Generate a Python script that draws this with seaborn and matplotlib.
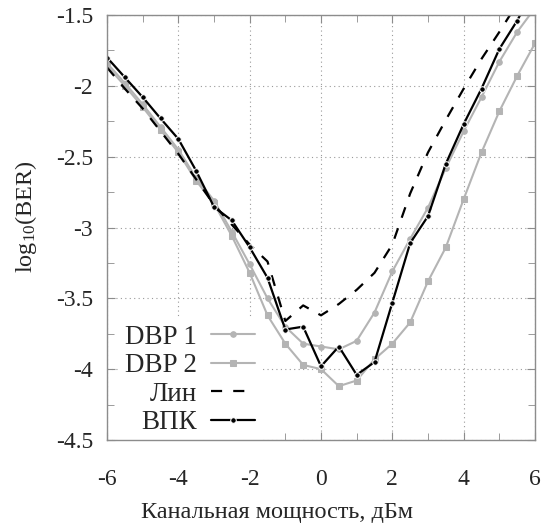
import seaborn as sns
import matplotlib
matplotlib.use("Agg")
import matplotlib.pyplot as plt
import pandas as pd
import numpy as np
from matplotlib.ticker import MultipleLocator

# channel power, dBm
power = [-6, -5.5, -5, -4.5, -4, -3.5, -3, -2.5, -2, -1.5, -1, -0.5, 0,
         0.5, 1, 1.5, 2, 2.5, 3, 3.5, 4, 4.5, 5, 5.5, 6]

dbp1 = [-1.84, -1.98, -2.13, -2.29, -2.45, -2.65, -2.81, -3.03, -3.26, -3.50,
        -3.70, -3.82, -3.84, -3.86, -3.80, -3.60, -3.31, -3.08, -2.86, -2.58,
        -2.32, -2.08, -1.83, -1.62, -1.45]
dbp2 = [-1.86, -2.00, -2.15, -2.31, -2.47, -2.67, -2.83, -3.06, -3.32, -3.62,
        -3.82, -3.97, -4.00, -4.12, -4.08, -3.93, -3.82, -3.67, -3.38, -3.14,
        -2.80, -2.47, -2.18, -1.93, -1.70]
lin = [-1.87, -2.02, -2.16, -2.32, -2.48, -2.66, -2.84, -2.98, -3.12, -3.24,
       -3.66, -3.55, -3.62, -3.54, -3.44, -3.32, -3.12, -2.76, -2.47, -2.24,
       -2.02, -1.81, -1.62, -1.42, -1.22]
vpk = [-1.80, -1.94, -2.08, -2.23, -2.375, -2.60, -2.855, -2.95, -3.14, -3.355,
       -3.72, -3.70, -3.98, -3.84, -4.04, -3.95, -3.53, -3.11, -2.92, -2.55,
       -2.27, -2.02, -1.74, -1.54, -1.30]

labels = ["DBP 1", "DBP 2", "Лин", "ВПК"]

sns.set_style("ticks")
plt.rcParams['font.family'] = ['Liberation Serif', 'DejaVu Serif']
plt.rcParams['mathtext.fontset'] = 'custom'
plt.rcParams['mathtext.rm'] = 'Liberation Serif'
plt.rcParams['mathtext.it'] = 'Liberation Serif:italic'

fig = plt.figure(figsize=(5.44, 5.30), dpi=100)
ax = fig.add_axes([107 / 544, 90 / 530, 428 / 544, 425 / 530])

gray = "#b4b4b4"
sns.lineplot(x=power, y=dbp1, ax=ax, color=gray, lw=1.5, marker="o", ms=4,
             mec=gray, label=labels[0])
sns.lineplot(x=power, y=dbp2, ax=ax, color=gray, lw=1.5, marker="s", ms=4,
             mec=gray, label=labels[1])
sns.lineplot(x=power, y=lin, ax=ax, color="black", lw=1.6, label=labels[2],
             dashes=False)
ax.lines[-1].set_dashes([5, 5])
sns.lineplot(x=power, y=vpk, ax=ax, color="black", lw=1.6, marker="o", ms=4,
             label=labels[3])

ax.set_xlim(-6, 6)
ax.set_ylim(-4.5, -1.5)
ax.xaxis.set_major_locator(MultipleLocator(2))
ax.xaxis.set_minor_locator(MultipleLocator(1))
ax.yaxis.set_major_locator(MultipleLocator(0.5))
ax.yaxis.set_minor_locator(MultipleLocator(0.25))
ax.set_xticklabels([f"{int(v)}" for v in ax.get_xticks()])
ax.set_yticks([-4.5, -4, -3.5, -3, -2.5, -2, -1.5])
ax.set_yticklabels(["-4.5", "-4", "-3.5", "-3", "-2.5", "-2", "-1.5"])

ax.grid(True, which="major", color="#9a9a9a", ls=(0, (1, 3)), lw=0.8)
for s in ax.spines.values():
    s.set_color("#8c8c8c")
    s.set_linewidth(1.0)
    s.set_zorder(6)
ax.tick_params(which="both", direction="in", top=True, right=True,
               color="#8c8c8c", labelsize=17)
ax.tick_params(axis="y", pad=10)
ax.tick_params(axis="x", pad=21)
ax.tick_params(which="major", length=6)
ax.tick_params(which="minor", length=5)

ax.set_xlabel("Канальная мощность, дБм", fontsize=17.5)
ax.xaxis.set_label_coords(0.397, -0.147)
ax.set_ylabel(r"log$_{10}$(BER)", fontsize=17.5)
ax.yaxis.set_label_coords(-0.16, 0.525)

leg = ax.legend(loc="lower left", bbox_to_anchor=(-0.005, -0.037), markerfirst=False,
                fontsize=19.5, frameon=True, framealpha=1, edgecolor="none",
                facecolor="white", handlelength=1.65, labelspacing=0.13,
                handletextpad=0.5, borderpad=0.25, fancybox=False)

plt.savefig("out.png", dpi=100)
